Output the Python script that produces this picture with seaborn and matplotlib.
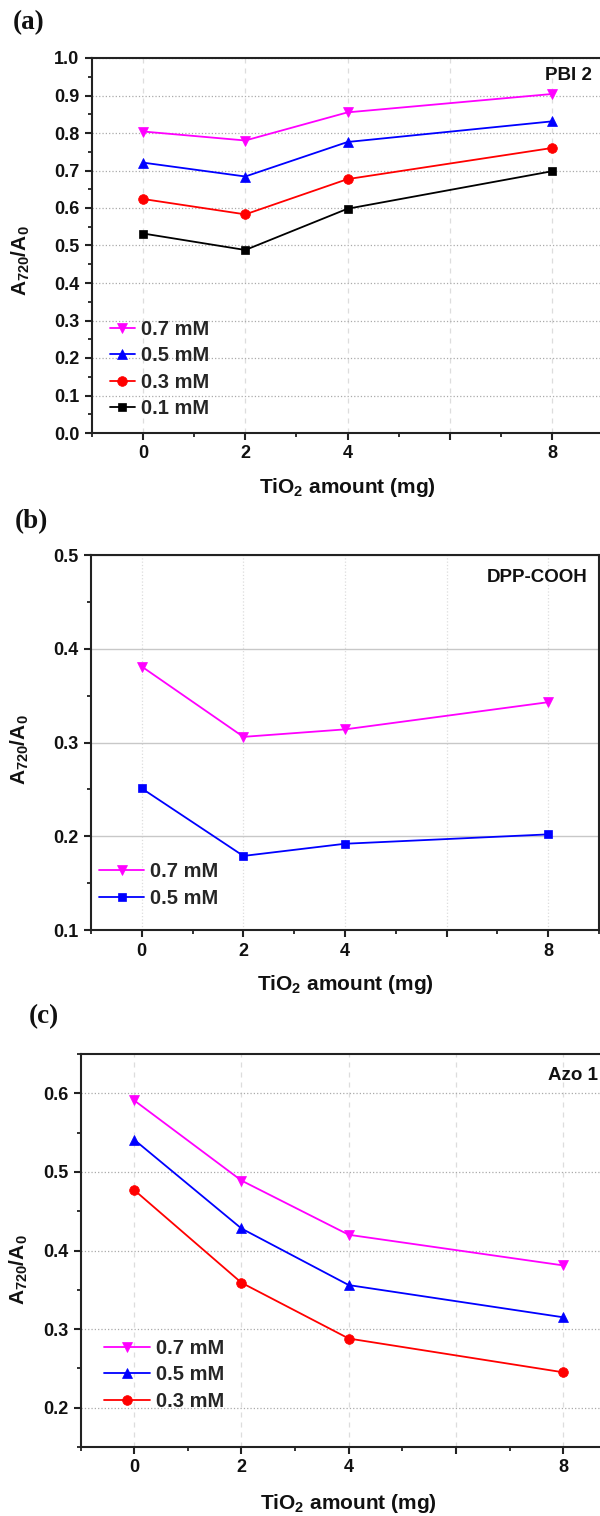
import numpy as np
import pandas as pd
import matplotlib
matplotlib.use("Agg")
import matplotlib.pyplot as plt
import seaborn as sns
from matplotlib.ticker import MultipleLocator, FixedLocator, FixedFormatter, FormatStrFormatter

# ---------------- data ----------------
tio2 = [0, 2, 4, 8]

pbi_07 = [0.804, 0.780, 0.855, 0.904]
pbi_05 = [0.721, 0.684, 0.776, 0.831]
pbi_03 = [0.624, 0.583, 0.677, 0.760]
pbi_01 = [0.532, 0.488, 0.598, 0.698]

dpp_07 = [0.381, 0.306, 0.314, 0.343]
dpp_05 = [0.251, 0.179, 0.192, 0.202]

azo_07 = [0.591, 0.489, 0.420, 0.381]
azo_05 = [0.541, 0.428, 0.356, 0.315]
azo_03 = [0.477, 0.359, 0.288, 0.245]

conc_labels = ["0.7 mM", "0.5 mM", "0.3 mM", "0.1 mM"]
panel_names = ["PBI 2", "DPP-COOH", "Azo 1"]
panel_tags = ["(a)", "(b)", "(c)"]
xtick_vals = [0, 2, 4, 6, 8]
xtick_labels = ["0", "2", "4", "", "8"]

# ---------------- style ----------------
sns.set_theme(style="ticks")
plt.rcParams["font.family"] = ["Liberation Sans", "DejaVu Sans"]
plt.rcParams["font.weight"] = "bold"
plt.rcParams["mathtext.fontset"] = "custom"
plt.rcParams["mathtext.rm"] = "Liberation Sans"
plt.rcParams["mathtext.bf"] = "Liberation Sans:bold"
plt.rcParams["mathtext.it"] = "Liberation Sans:italic"
plt.rcParams["mathtext.sf"] = "Liberation Sans"

colors = {"0.7 mM": "#FF00FF", "0.5 mM": "#0000FF", "0.3 mM": "#FF0000", "0.1 mM": "#000000"}


def long_df(series):
    rows = []
    for lab, vals in series:
        for x, y in zip(tio2, vals):
            rows.append({"x": x, "y": y, "conc": lab})
    return pd.DataFrame(rows)


W, H = 600, 1516
fig = plt.figure(figsize=(W / 100, H / 100), dpi=100)


def px_axes(left, right, top, bottom):
    return fig.add_axes([left / W, 1 - bottom / H, (right - left) / W, (bottom - top) / H])


ax_a = px_axes(92, 603, 58, 433)
ax_b = px_axes(91, 599, 555, 930)
ax_c = px_axes(80.5, 617, 1054, 1447)

panels = [
    dict(ax=ax_a,
         series=[("0.7 mM", pbi_07), ("0.5 mM", pbi_05), ("0.3 mM", pbi_03), ("0.1 mM", pbi_01)],
         markers={"0.7 mM": "v", "0.5 mM": "^", "0.3 mM": "o", "0.1 mM": "s"},
         ylim=(0.0, 1.0), ymaj=0.1, hgrid=dict(ls=":", color="#AAAAAA", lw=0.9),
         vgrid=dict(ls=(0, (4, 4)), color="#DDDDDD", lw=0.9),
         leg_anchor=(0.035, 0.04), hlen=1.25, name_pos=(0.978, 0.975, "right")),
    dict(ax=ax_b,
         series=[("0.7 mM", dpp_07), ("0.5 mM", dpp_05)],
         markers={"0.7 mM": "v", "0.5 mM": "s"},
         ylim=(0.1, 0.5), ymaj=0.1, hgrid=dict(ls="-", color="#C8C8C8", lw=1.0),
         vgrid=dict(ls=":", color="#DDDDDD", lw=0.9),
         leg_anchor=(0.016, 0.059), hlen=2.25, name_pos=(0.978, 0.962, "right")),
    dict(ax=ax_c,
         series=[("0.7 mM", azo_07), ("0.5 mM", azo_05), ("0.3 mM", azo_03)],
         markers={"0.7 mM": "v", "0.5 mM": "^", "0.3 mM": "o"},
         ylim=(0.15, 0.65), ymaj=0.1, hgrid=dict(ls=":", color="#AAAAAA", lw=0.9),
         vgrid=dict(ls=(0, (4, 4)), color="#DDDDDD", lw=0.9),
         leg_anchor=(0.044, 0.092), hlen=2.3, name_pos=(0.871, 0.967, "left")),
]

for p, tag, name in zip(panels, panel_tags, panel_names):
    ax = p["ax"]
    df = long_df(p["series"])
    order = [s[0] for s in p["series"]]
    sns.lineplot(data=df, x="x", y="y", hue="conc", style="conc",
                 hue_order=order, style_order=order,
                 palette={k: colors[k] for k in order},
                 markers=p["markers"], dashes=False,
                 markersize=7, linewidth=1.3, ax=ax, legend=True)
    for ln in ax.lines:
        ln.set_markeredgecolor(ln.get_color())
        ln.set_markeredgewidth(0.5)
        if ln.get_marker() == "s":
            ln.set_markersize(6)

    leg = ax.get_legend()
    handles = list(leg.legend_handles)
    labels = [t.get_text() for t in leg.get_texts()]
    leg.remove()
    for h in handles:
        h.set_markeredgecolor(h.get_color())
        h.set_markeredgewidth(0.5)
        h.set_linewidth(1.3)
        h.set_markersize(7 if h.get_marker() != "s" else 6)
    ax.legend(handles, labels, loc="lower left", bbox_to_anchor=p["leg_anchor"],
              frameon=False, handlelength=p["hlen"], handletextpad=0.3,
              labelspacing=0.37, borderpad=0, borderaxespad=0,
              prop=dict(family="Liberation Sans", weight="bold", size=14.5))

    ax.set_xlim(-1, 9)
    ax.set_ylim(*p["ylim"])
    ax.xaxis.set_major_locator(FixedLocator(xtick_vals))
    ax.xaxis.set_major_formatter(FixedFormatter(xtick_labels))
    ax.xaxis.set_minor_locator(FixedLocator([-1, 1, 3, 5, 7, 9]))
    ax.yaxis.set_major_locator(MultipleLocator(p["ymaj"]))
    ax.yaxis.set_minor_locator(MultipleLocator(p["ymaj"] / 2))
    ax.yaxis.set_major_formatter(FormatStrFormatter("%.1f"))

    ax.grid(False)
    ax.yaxis.grid(True, which="major", **p["hgrid"])
    ax.xaxis.grid(True, which="major", **p["vgrid"])
    ax.set_axisbelow(True)

    for s in ax.spines.values():
        s.set_linewidth(1.5)
        s.set_color("#222222")
        s.set_visible(True)
    ax.tick_params(axis="both", which="major", direction="out", length=5, width=1.5,
                   labelsize=13, pad=4, colors="#222222", labelcolor="#111111",
                   top=False, right=False)
    ax.tick_params(axis="both", which="minor", direction="out", length=3, width=1.3,
                   colors="#222222", top=False, right=False)
    for t in ax.get_xticklabels() + ax.get_yticklabels():
        t.set_fontweight("bold")

    ax.set_xlabel(r"TiO$_{\mathbf{2}}$ amount (mg)", fontsize=15, fontweight="bold", color="#111111")
    ax.set_ylabel(r"A$_{\mathrm{720}}$/A$_{\mathrm{0}}$", fontsize=15, fontweight="bold", color="#111111")
    ax.xaxis.set_label_coords(0.5, -0.115)

    nx, ny, ha = p["name_pos"]
    ax.text(nx, ny, name, transform=ax.transAxes, ha=ha, va="top",
            fontsize=13.5, fontweight="bold", color="#111111")

ax_a.yaxis.set_label_coords(-0.118, 0.46)
ax_b.yaxis.set_label_coords(-0.118, 0.48)
ax_c.yaxis.set_label_coords(-0.095, 0.45)

tag_pos = [(13, 10), (15, 509), (29, 1004)]
for tag, (tx, ty) in zip(panel_tags, tag_pos):
    fig.text(tx / W, 1 - ty / H, tag, ha="left", va="top", fontsize=19.5,
             fontweight="bold", family=["Liberation Serif", "DejaVu Serif"], color="#111111")

fig.savefig("out.png", dpi=100)
